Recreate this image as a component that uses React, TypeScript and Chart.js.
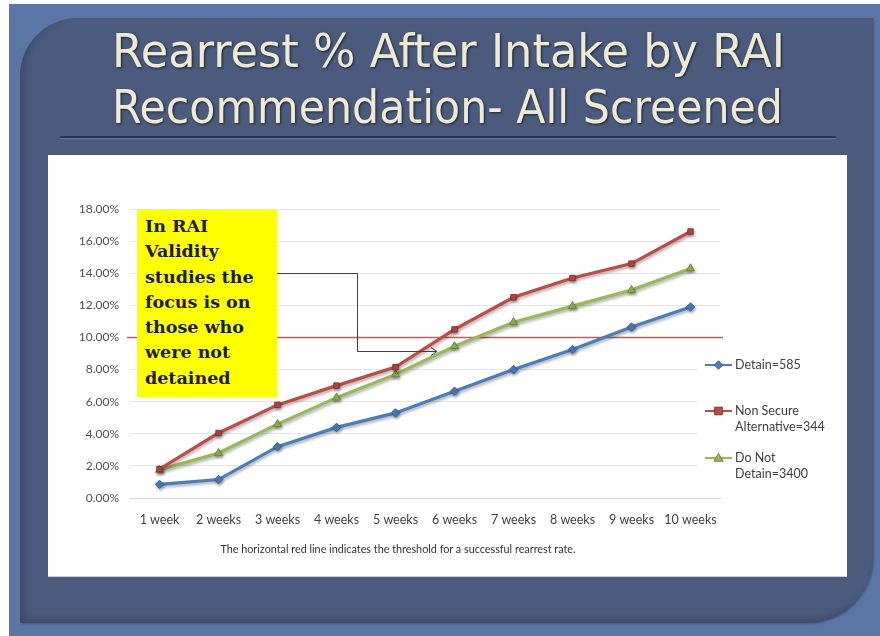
import React, { useEffect, useRef } from "react";
import { Chart, registerables } from "chart.js";

Chart.register(...registerables);

// ---------- data ----------
const WEEKS = ["1 week", "2 weeks", "3 weeks", "4 weeks", "5 weeks", "6 weeks", "7 weeks", "8 weeks", "9 weeks", "10 weeks"];
const DETAIN = [0.85, 1.15, 3.2, 4.4, 5.3, 6.65, 8.0, 9.25, 10.65, 11.9];
const NON_SECURE = [1.8, 4.05, 5.8, 7.0, 8.15, 10.5, 12.5, 13.7, 14.6, 16.6];
const DO_NOT_DETAIN = [1.75, 2.8, 4.6, 6.25, 7.7, 9.45, 10.95, 11.95, 12.95, 14.3];
const THRESHOLD = 10;
const Y_MIN = 0;
const Y_MAX = 18;
const Y_STEP = 2;
const SERIES_LABELS = [["Detain=585"], ["Non Secure", "Alternative=344"], ["Do Not", "Detain=3400"]];
const TITLE_LINES = ["Rearrest % After Intake by RAI", "Recommendation- All Screened"];
const NOTE_LINES = ["In RAI", "Validity", "studies the", "focus is on", "those who", "were not", "detained"];
const CAPTION = "The horizontal red line indicates the threshold for a successful rearrest rate.";

const COLORS = ["#4a7ebb", "#be4b48", "#98b954"];
const BORDERS = ["#2f5f99", "#8c2f2c", "#6b8a35"];
const STYLES = ["rectRot", "rect", "triangle"];
const RADII = [4.2, 3.8, 4.6];

const FONT = "Lato, 'Open Sans', 'DejaVu Sans', sans-serif";

function drawMarker(ctx: CanvasRenderingContext2D, style: string, x: number, y: number, r: number, fill: string, stroke: string) {
  ctx.beginPath();
  if (style === "rectRot") {
    ctx.moveTo(x, y - r);
    ctx.lineTo(x + r, y);
    ctx.lineTo(x, y + r);
    ctx.lineTo(x - r, y);
  } else if (style === "rect") {
    ctx.rect(x - r, y - r, 2 * r, 2 * r);
  } else {
    ctx.moveTo(x, y - r);
    ctx.lineTo(x + r, y + r * 0.7);
    ctx.lineTo(x - r, y + r * 0.7);
  }
  ctx.closePath();
  ctx.fillStyle = fill;
  ctx.fill();
  ctx.strokeStyle = stroke;
  ctx.lineWidth = 1;
  ctx.stroke();
}

export default function App() {
  const canvasRef = useRef<HTMLCanvasElement>(null);

  useEffect(() => {
    const canvas = canvasRef.current;
    if (!canvas) return;

    const decorPlugin = {
      id: "decor",
      beforeDatasetsDraw(chart: any) {
        const { ctx, chartArea, scales } = chart;
        const y = scales.y.getPixelForValue(THRESHOLD);
        ctx.save();
        ctx.shadowColor = "rgba(0,0,0,0)";
        ctx.globalAlpha = 1;
        ctx.strokeStyle = "#f24848";
        ctx.lineWidth = 1.6;
        ctx.beginPath();
        ctx.moveTo(chartArea.left - 3, y);
        ctx.lineTo(chartArea.right + 3, y);
        ctx.stroke();
        ctx.restore();
        ctx.save();
        ctx.shadowColor = "rgba(0,0,0,0.32)";
        ctx.shadowBlur = 3;
        ctx.shadowOffsetX = 1;
        ctx.shadowOffsetY = 2;
      },
      afterDatasetsDraw(chart: any) {
        chart.ctx.restore();
      },
      afterDraw(chart: any) {
        const { ctx, chartArea } = chart;
        const boxLeft = chartArea.left + 567;
        const boxTop = chartArea.top + 136;
        ctx.save();
        ctx.fillStyle = "#ffffff";
        ctx.fillRect(boxLeft, boxTop, 200, chartArea.bottom - 5 - boxTop);
        const rowsY = [chartArea.top + 156, chartArea.top + 202, chartArea.top + 249];
        const lx = chartArea.right - 15;
        ctx.font = "12.5px " + FONT;
        ctx.textBaseline = "middle";
        SERIES_LABELS.forEach((lines, i) => {
          const y = rowsY[i];
          ctx.strokeStyle = COLORS[i];
          ctx.lineWidth = 2;
          ctx.beginPath();
          ctx.moveTo(lx, y);
          ctx.lineTo(lx + 27, y);
          ctx.stroke();
          drawMarker(ctx, STYLES[i], lx + 13.5, y, RADII[i], COLORS[i], BORDERS[i]);
          ctx.fillStyle = "#404040";
          lines.forEach((t, j) => ctx.fillText(t, lx + 30, y + j * 16));
        });
        ctx.restore();
      },
    };

    const mk = (label: string, data: number[], i: number) => ({
      label,
      data,
      borderColor: COLORS[i],
      backgroundColor: COLORS[i],
      borderWidth: 3.2,
      pointStyle: STYLES[i],
      pointRadius: RADII[i],
      pointBackgroundColor: COLORS[i],
      pointBorderColor: BORDERS[i],
      pointBorderWidth: 1,
      tension: 0,
      fill: false,
    });

    const chart = new Chart(canvas, {
      type: "line",
      data: {
        labels: WEEKS,
        datasets: [
          mk(SERIES_LABELS[0].join(" "), DETAIN, 0),
          mk(SERIES_LABELS[1].join(" "), NON_SECURE, 1),
          mk(SERIES_LABELS[2].join(" "), DO_NOT_DETAIN, 2),
        ],
      },
      options: {
        animation: false,
        responsive: false,
        maintainAspectRatio: false,
        layout: { padding: { left: 0, top: 54, right: 127, bottom: 48 } },
        plugins: { legend: { display: false }, tooltip: { enabled: false }, title: { display: false } },
        scales: {
          x: {
            offset: true,
            grid: { display: false, drawTicks: false },
            border: { display: true, color: "#d6d6d6", width: 1 },
            ticks: { font: { family: FONT, size: 12.5 }, color: "#404040", padding: 14, maxRotation: 0, autoSkip: false },
            afterFit: (s: any) => { s.height = 30; },
          },
          y: {
            min: Y_MIN,
            max: Y_MAX,
            grid: { color: "#e6e6e6", drawTicks: false },
            border: { display: false },
            ticks: {
              stepSize: Y_STEP,
              font: { family: FONT, size: 12 },
              color: "#505050",
              padding: 11,
              callback: (v: any) => Number(v).toFixed(2) + "%",
            },
            afterFit: (s: any) => { s.width = 82; },
          },
        },
      },
      plugins: [decorPlugin],
    } as any);

    return () => chart.destroy();
  }, []);

  const abs = (o: React.CSSProperties): React.CSSProperties => ({ position: "absolute", ...o });
  const titleStyle: React.CSSProperties = {
    fontFamily: "'DejaVu Sans Condensed', 'Liberation Sans Narrow', 'DejaVu Sans', sans-serif",
    fontSize: 46,
    filter: "drop-shadow(1.5px 1.5px 1px rgba(20,25,40,0.85))",
  };

  return (
    <div style={abs({ left: 0, top: 0, width: 880, height: 636, background: "#ffffff", overflow: "hidden" })}>
      <div style={abs({ left: 9, top: 4, width: 871, height: 632, background: "#5b76a4" })} />
      <div
        style={abs({
          left: 20,
          top: 18,
          width: 853,
          height: 605,
          background: "#4a5b7e",
          borderTopLeftRadius: 58,
          borderBottomRightRadius: 66,
          boxShadow: "inset 5px -4px 6px rgba(0,0,0,0.18), 1px 1px 2px rgba(0,0,0,0.25)",
        })}
      />
      <svg width={880} height={150} style={abs({ left: 0, top: 0, overflow: "visible" })}>
        <text x={448.5} y={67} textAnchor="middle" textLength={673} lengthAdjust="spacingAndGlyphs" fill="#eeebd2" style={titleStyle}>
          {TITLE_LINES[0]}
        </text>
        <text x={447.5} y={123} textAnchor="middle" textLength={671} lengthAdjust="spacingAndGlyphs" fill="#eeebd2" style={titleStyle}>
          {TITLE_LINES[1]}
        </text>
        <line x1={60} y1={137} x2={836} y2={137} stroke="#233861" strokeWidth={2} />
        <line x1={60} y1={138.8} x2={836} y2={138.8} stroke="#6a7fa6" strokeWidth={0.8} />
      </svg>
      <div style={abs({ left: 48, top: 155, width: 799, height: 421, background: "#ffffff", borderBottom: "1px solid #c8d2e4" })}>
        <canvas ref={canvasRef} width={799} height={421} style={{ display: "block", width: 799, height: 421 }} />
      </div>
      <svg width={880} height={636} style={abs({ left: 0, top: 0, pointerEvents: "none" })}>
        <polyline points="277,273.5 357.5,273.5 357.5,351.5 436,351.5" fill="none" stroke="#404040" strokeWidth={1} />
        <polyline points="431,347.5 437,351.5 431,355.5" fill="none" stroke="#404040" strokeWidth={1} />
      </svg>
      <div
        style={abs({
          left: 137,
          top: 209,
          width: 140,
          height: 188,
          background: "#ffff00",
          boxSizing: "border-box",
          paddingTop: 5,
          paddingLeft: 8,
          fontFamily: "'DejaVu Serif', 'Liberation Serif', serif",
          fontWeight: 700,
          fontSize: 17.5,
          lineHeight: "25.3px",
          color: "#1a1a1a",
          whiteSpace: "nowrap",
        })}
      >
        {NOTE_LINES.map((l, i) => (
          <div key={i}>{l}</div>
        ))}
      </div>
      <div
        style={abs({
          left: 198,
          top: 541,
          width: 400,
          textAlign: "center",
          fontFamily: FONT,
          fontSize: 10.8,
          lineHeight: "16px",
          color: "#333",
          whiteSpace: "nowrap",
        })}
      >
        {CAPTION}
      </div>
    </div>
  );
}
